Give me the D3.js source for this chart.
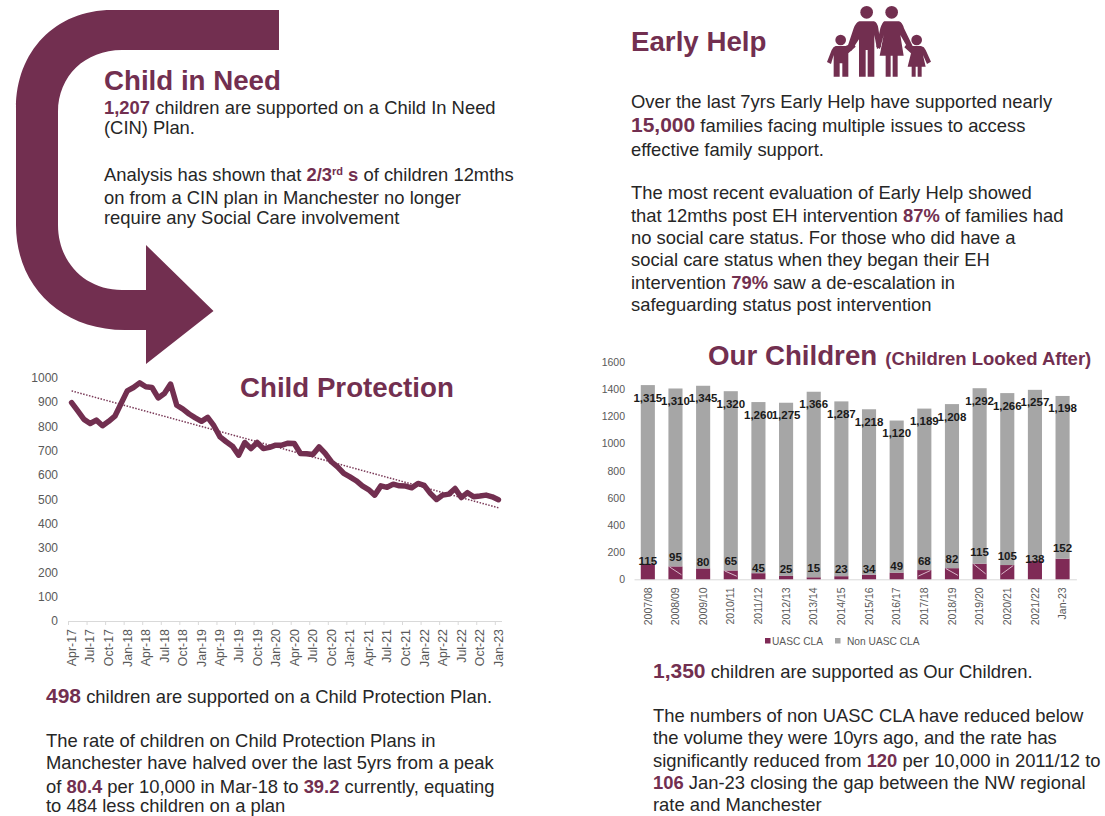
<!DOCTYPE html>
<html lang="en">
<head>
<meta charset="utf-8">
<title>Children's services overview</title>
<script src="https://cdn.jsdelivr.net/npm/d3@7/dist/d3.min.js"></script>
<style>
  html, body { margin: 0; padding: 0; background: #fff; }
  svg { display: block; font-family: "Liberation Sans", Arial, sans-serif; }
</style>
</head>
<body>
<svg id="page" width="1105" height="816"></svg>
<script>
// Children on a Child Protection Plan, monthly
const cpMonths = [
  "Apr-17","May-17","Jun-17","Jul-17","Aug-17","Sep-17","Oct-17","Nov-17","Dec-17",
  "Jan-18","Feb-18","Mar-18","Apr-18","May-18","Jun-18","Jul-18","Aug-18","Sep-18","Oct-18","Nov-18","Dec-18",
  "Jan-19","Feb-19","Mar-19","Apr-19","May-19","Jun-19","Jul-19","Aug-19","Sep-19","Oct-19","Nov-19","Dec-19",
  "Jan-20","Feb-20","Mar-20","Apr-20","May-20","Jun-20","Jul-20","Aug-20","Sep-20","Oct-20","Nov-20","Dec-20",
  "Jan-21","Feb-21","Mar-21","Apr-21","May-21","Jun-21","Jul-21","Aug-21","Sep-21","Oct-21","Nov-21","Dec-21",
  "Jan-22","Feb-22","Mar-22","Apr-22","May-22","Jun-22","Jul-22","Aug-22","Sep-22","Oct-22","Nov-22","Dec-22",
  "Jan-23"
];
const cpValues = [
  897,863,828,811,825,802,820,841,893,
  945,959,978,962,959,916,934,973,886,870,850,834,
  820,836,802,756,736,718,681,733,708,733,708,713,
  722,722,730,729,688,687,684,715,688,654,633,606,
  592,576,555,540,517,555,549,562,555,554,547,565,
  557,524,499,517,521,544,507,527,510,513,517,510,
  498
];
const cpTrendEnds = [945, 465];
const cpTicks = [0,100,200,300,400,500,600,700,800,900,1000];

// Our Children: stacked counts by year
const clYears = ["2007/08","2008/09","2009/10","2010/11","2011/12","2012/13","2013/14","2014/15",
                 "2015/16","2016/17","2017/18","2018/19","2019/20","2020/21","2021/22","Jan-23"];
const uascCla = [115,95,80,65,45,25,15,23,34,49,68,82,115,105,138,152];
const nonUascCla = [1315,1310,1345,1320,1260,1275,1366,1287,1218,1120,1189,1208,1292,1266,1257,1198];
const clTicks = [0,200,400,600,800,1000,1200,1400,1600];
const clLegend = ["UASC CLA","Non UASC CLA"];

const PLUM = "#722f50";
const BAR_PLUM = "#7f2a56";
const BAR_GREY = "#a6a6a6";
const INK = "#262626";
const AXIS_TEXT = "#595959";
const BODY = 18.4;
const LEAD = 21;
const TITLE = 27.7;

const svg = d3.select("#page");

// A text line is a list of runs; a run is plain text or {t, size} for emphasised figures.
function drawLines(x, lines, size) {
  lines.forEach(([y, runs]) => {
    const el = svg.append("text").attr("x", x).attr("y", y)
      .attr("font-size", size).attr("fill", INK);
    runs.forEach(r => {
      const span = el.append("tspan");
      if (typeof r === "string") span.text(r);
      else {
        span.text(r.t).attr("font-weight", 700).attr("fill", PLUM).attr("font-size", r.size || size);
        if (r.sup) span.attr("baseline-shift", "super").attr("font-size", 11);
      }
    });
  });
}
function heading(x, y, text, size) {
  return svg.append("text").attr("x", x).attr("y", y).attr("font-size", size)
    .attr("font-weight", 700).attr("fill", PLUM).text(text);
}

// Curved arrow that leads from Child in Need down to Child Protection
const arrow = d3.path();
arrow.moveTo(279, 10);
arrow.lineTo(112, 10);
arrow.bezierCurveTo(55, 10, 16, 52, 16, 108);
arrow.lineTo(16, 225);
arrow.bezierCurveTo(16, 285, 60, 330, 125, 330);
arrow.lineTo(146, 330);
arrow.lineTo(146, 364);
arrow.lineTo(213.5, 311);
arrow.lineTo(146, 245);
arrow.lineTo(146, 290);
arrow.lineTo(122, 290);
arrow.bezierCurveTo(85, 290, 58, 262, 58, 225);
arrow.lineTo(58, 112);
arrow.bezierCurveTo(58, 76, 85, 50, 122, 50);
arrow.lineTo(279, 50);
arrow.closePath();
svg.append("path").attr("d", arrow.toString()).attr("fill", PLUM);

// Family pictogram beside the Early Help heading
const family = svg.append("g").attr("transform", "translate(825,0) scale(0.3333)").attr("fill", PLUM);
[[125,37,19],[200,37,19],[47,120,16],[275,120,16]].forEach(([cx, cy, r]) =>
  family.append("circle").attr("cx", cx).attr("cy", cy).attr("r", r));
[
  "M103,64 L147,64 Q157,67 160,85 L168,140 L156,147 L148,105 L148,230 L128,230 L128,150 L122,150 L122,230 L102,230 L102,118 L78,154 L66,145 L86,85 Q93,67 103,64 Z",
  "M178,64 L222,64 Q232,67 237,85 L264,140 L252,150 L226,105 L236,167 L218,167 L218,230 L203,230 L203,167 L197,167 L197,230 L182,230 L182,167 L164,167 L176,105 L165,147 L154,140 L166,85 Q172,67 178,64 Z",
  "M32,138 L62,138 L85,128 L92,140 L70,160 L70,230 L52,230 L52,190 L44,190 L44,230 L26,230 L26,165 L18,192 L6,186 L20,150 Q25,140 32,138 Z",
  "M262,138 L288,138 Q298,140 302,150 L318,185 L306,192 L294,165 L302,200 L290,200 L290,230 L278,230 L278,200 L272,200 L272,230 L260,230 L260,200 L248,200 L258,160 L238,142 L248,128 Z"
].forEach(d => family.append("path").attr("d", d));

// Headings and narrative
heading(104, 90, "Child in Need", TITLE);
drawLines(104, [
  [114, [{t:"1,207"}, " children are supported on a Child In Need"]],
  [134, ["(CIN) Plan."]],
  [181, ["Analysis has shown that ", {t:"2/3"}, {t:"rd", sup:true}, {t:" s"}, " of children 12mths"]],
  [204, ["on from a CIN plan in Manchester no longer"]],
  [224, ["require any Social Care involvement"]]
], BODY);

heading(631, 51, "Early Help", TITLE);
drawLines(631, [
  [107.5, ["Over the last 7yrs Early Help have supported nearly"]],
  [132, [{t:"15,000", size:LEAD}, " families facing multiple issues to access"]],
  [155.5, ["effective family support."]],
  [199, ["The most recent evaluation of Early Help showed"]],
  [222, ["that 12mths post EH intervention ", {t:"87%"}, " of families had"]],
  [243.5, ["no social care status. For those who did have a"]],
  [266, ["social care status when they began their EH"]],
  [288.5, ["intervention ", {t:"79%"}, " saw a de-escalation in"]],
  [311, ["safeguarding status post intervention"]]
], BODY);

heading(240, 397, "Child Protection", TITLE);
drawLines(46, [
  [703, [{t:"498", size:LEAD}, " children are supported on a Child Protection Plan."]],
  [747, ["The rate of children on Child Protection Plans in"]],
  [769, ["Manchester have halved over the last 5yrs from a peak"]],
  [793, ["of ", {t:"80.4"}, " per 10,000 in Mar-18 to ", {t:"39.2"}, " currently, equating"]],
  [812, ["to 484 less children on a plan"]]
], BODY);

const ocTitle = heading(708, 365, "Our Children", TITLE);
ocTitle.append("tspan").attr("font-size", 18.5).attr("dx", 3).text(" (Children Looked After)");
drawLines(653, [
  [678, [{t:"1,350", size:LEAD}, " children are supported as Our Children."]],
  [721.5, ["The numbers of non UASC CLA have reduced below"]],
  [744, ["the volume they were 10yrs ago, and the rate has"]],
  [767, ["significantly reduced from ", {t:"120"}, " per 10,000 in 2011/12 to"]],
  [788.5, [{t:"106"}, " Jan-23 closing the gap between the NW regional"]],
  [811, ["rate and Manchester"]]
], BODY);

// Child Protection line chart
const cpX = d3.scaleBand().domain(cpMonths).range([68.5, 501.5]).padding(0);
const cpY = d3.scaleLinear().domain([0, 1000]).range([621, 377.5]);
const cpMid = m => cpX(m) + cpX.bandwidth() / 2;
const everyThird = cpMonths.filter((_, i) => i % 3 === 0);

const cpYAxis = svg.append("g").attr("transform", "translate(62,0)")
  .call(d3.axisLeft(cpY).tickValues(cpTicks).tickFormat(d3.format("d")).tickSize(0).tickPadding(4));
cpYAxis.select(".domain").remove();
cpYAxis.selectAll("text").attr("font-size", 12).attr("font-family", null).attr("fill", AXIS_TEXT);

const cpXAxis = svg.append("g").attr("transform", "translate(0,621)")
  .call(d3.axisBottom(cpX).tickValues(everyThird).tickSize(0));
cpXAxis.select(".domain").attr("stroke", "#d9d9d9").attr("stroke-width", 1);
cpXAxis.selectAll("text")
  .attr("font-size", 12.4).attr("font-family", null).attr("fill", AXIS_TEXT)
  .attr("transform", "rotate(-90)").attr("text-anchor", "end")
  .attr("x", -8).attr("y", 0).attr("dy", "0.35em");
svg.append("g").selectAll("line").data(everyThird).join("line")
  .attr("x1", cpX).attr("x2", cpX).attr("y1", 621).attr("y2", 625)
  .attr("stroke", "#d9d9d9");

svg.append("line")
  .attr("x1", cpMid(cpMonths[0])).attr("x2", cpMid(cpMonths[cpMonths.length - 1]))
  .attr("y1", cpY(cpTrendEnds[0])).attr("y2", cpY(cpTrendEnds[1]))
  .attr("stroke", "#7a3a58").attr("stroke-width", 1.5).attr("stroke-dasharray", "1.5 1.5");

const cpLine = d3.line().x((_, i) => cpMid(cpMonths[i])).y(d => cpY(d));
svg.append("path").datum(cpValues).attr("d", cpLine).attr("fill", "none")
  .attr("stroke", PLUM).attr("stroke-width", 5.5)
  .attr("stroke-linejoin", "round").attr("stroke-linecap", "round");

// Our Children stacked columns
const clX = d3.scaleBand().domain(clYears).range([634, 1076.4]).paddingInner(0.49).paddingOuter(0.245);
const clY = d3.scaleLinear().domain([0, 1600]).range([579.3, 362]);

const clYAxis = svg.append("g").attr("transform", "translate(625,0)")
  .call(d3.axisLeft(clY).tickValues(clTicks).tickFormat(d3.format("d")).tickSize(0).tickPadding(0));
clYAxis.select(".domain").remove();
clYAxis.selectAll("text").attr("font-size", 10.5).attr("font-family", null).attr("fill", AXIS_TEXT);

const clXAxis = svg.append("g").attr("transform", "translate(0,579.3)")
  .call(d3.axisBottom(clX).tickSize(0));
clXAxis.select(".domain").attr("stroke", "#d9d9d9");
clXAxis.selectAll("text")
  .attr("font-size", 10.5).attr("font-family", null).attr("fill", AXIS_TEXT)
  .attr("transform", "rotate(-90)").attr("text-anchor", "end")
  .attr("x", -8).attr("y", 0).attr("dy", "0.35em");

const clRows = clYears.map((year, i) => ({ year, uasc: uascCla[i], non: nonUascCla[i] }));
const clStack = d3.stack().keys(["uasc", "non"])(clRows);
const clFill = { uasc: BAR_PLUM, non: BAR_GREY };
svg.append("g").selectAll("g").data(clStack).join("g").attr("fill", d => clFill[d.key])
  .selectAll("rect").data(d => d).join("rect")
  .attr("x", d => clX(d.data.year)).attr("width", clX.bandwidth())
  .attr("y", d => clY(d[1])).attr("height", d => clY(d[0]) - clY(d[1]));

// Pale leader strokes across the UASC segments whose labels were pulled away
const leaderSlant = { "2008/09": 1, "2010/11": 1, "2017/18": -1, "2018/19": 1, "2019/20": 1, "2020/21": -1 };
svg.append("g").selectAll("line").data(clRows.filter(d => leaderSlant[d.year])).join("line")
  .attr("x1", d => clX(d.year) + clX.bandwidth() / 2 - 6 * leaderSlant[d.year])
  .attr("x2", d => clX(d.year) + clX.bandwidth() / 2 + 6 * leaderSlant[d.year])
  .attr("y1", d => clY(d.uasc) + 0.5)
  .attr("y2", d => clY(d.uasc * 0.35))
  .attr("stroke", "#d8b6c8").attr("stroke-width", 1);

// Column labels: the grey total sits just inside the column top, the UASC count above its segment
const fmt = d3.format(",");
// Lift of each UASC label above its segment, set by hand where the labels would collide
const uascLabelLift = [3,9,6,9,5,7,9,7,6,7,9,9,12,9,2,11];
const valueLabels = svg.append("g").attr("text-anchor", "middle").attr("font-size", 11.5)
  .attr("font-weight", 700).attr("fill", "#1a1a1a");
valueLabels.selectAll(".non").data(clRows).join("text").attr("class", "non")
  .attr("x", d => clX(d.year) + clX.bandwidth() / 2)
  .attr("y", d => clY(d.uasc + d.non) + 12.5).attr("dy", "0.35em")
  .text(d => fmt(d.non));
valueLabels.selectAll(".uasc").data(clRows).join("text").attr("class", "uasc")
  .attr("x", d => clX(d.year) + clX.bandwidth() / 2)
  .attr("y", (d, i) => clY(d.uasc) - uascLabelLift[i]).attr("dy", "0.35em")
  .text(d => fmt(d.uasc));

// Legend
const legendAt = [765, 835];
clLegend.forEach((name, i) => {
  svg.append("rect").attr("x", legendAt[i]).attr("y", 638).attr("width", 5.5).attr("height", 5.5)
    .attr("fill", i === 0 ? BAR_PLUM : BAR_GREY);
  svg.append("text").attr("x", legendAt[i] + (i === 0 ? 7 : 12)).attr("y", 644.5)
    .attr("font-size", 10.2).attr("fill", AXIS_TEXT).text(name);
});
</script>
</body>
</html>
